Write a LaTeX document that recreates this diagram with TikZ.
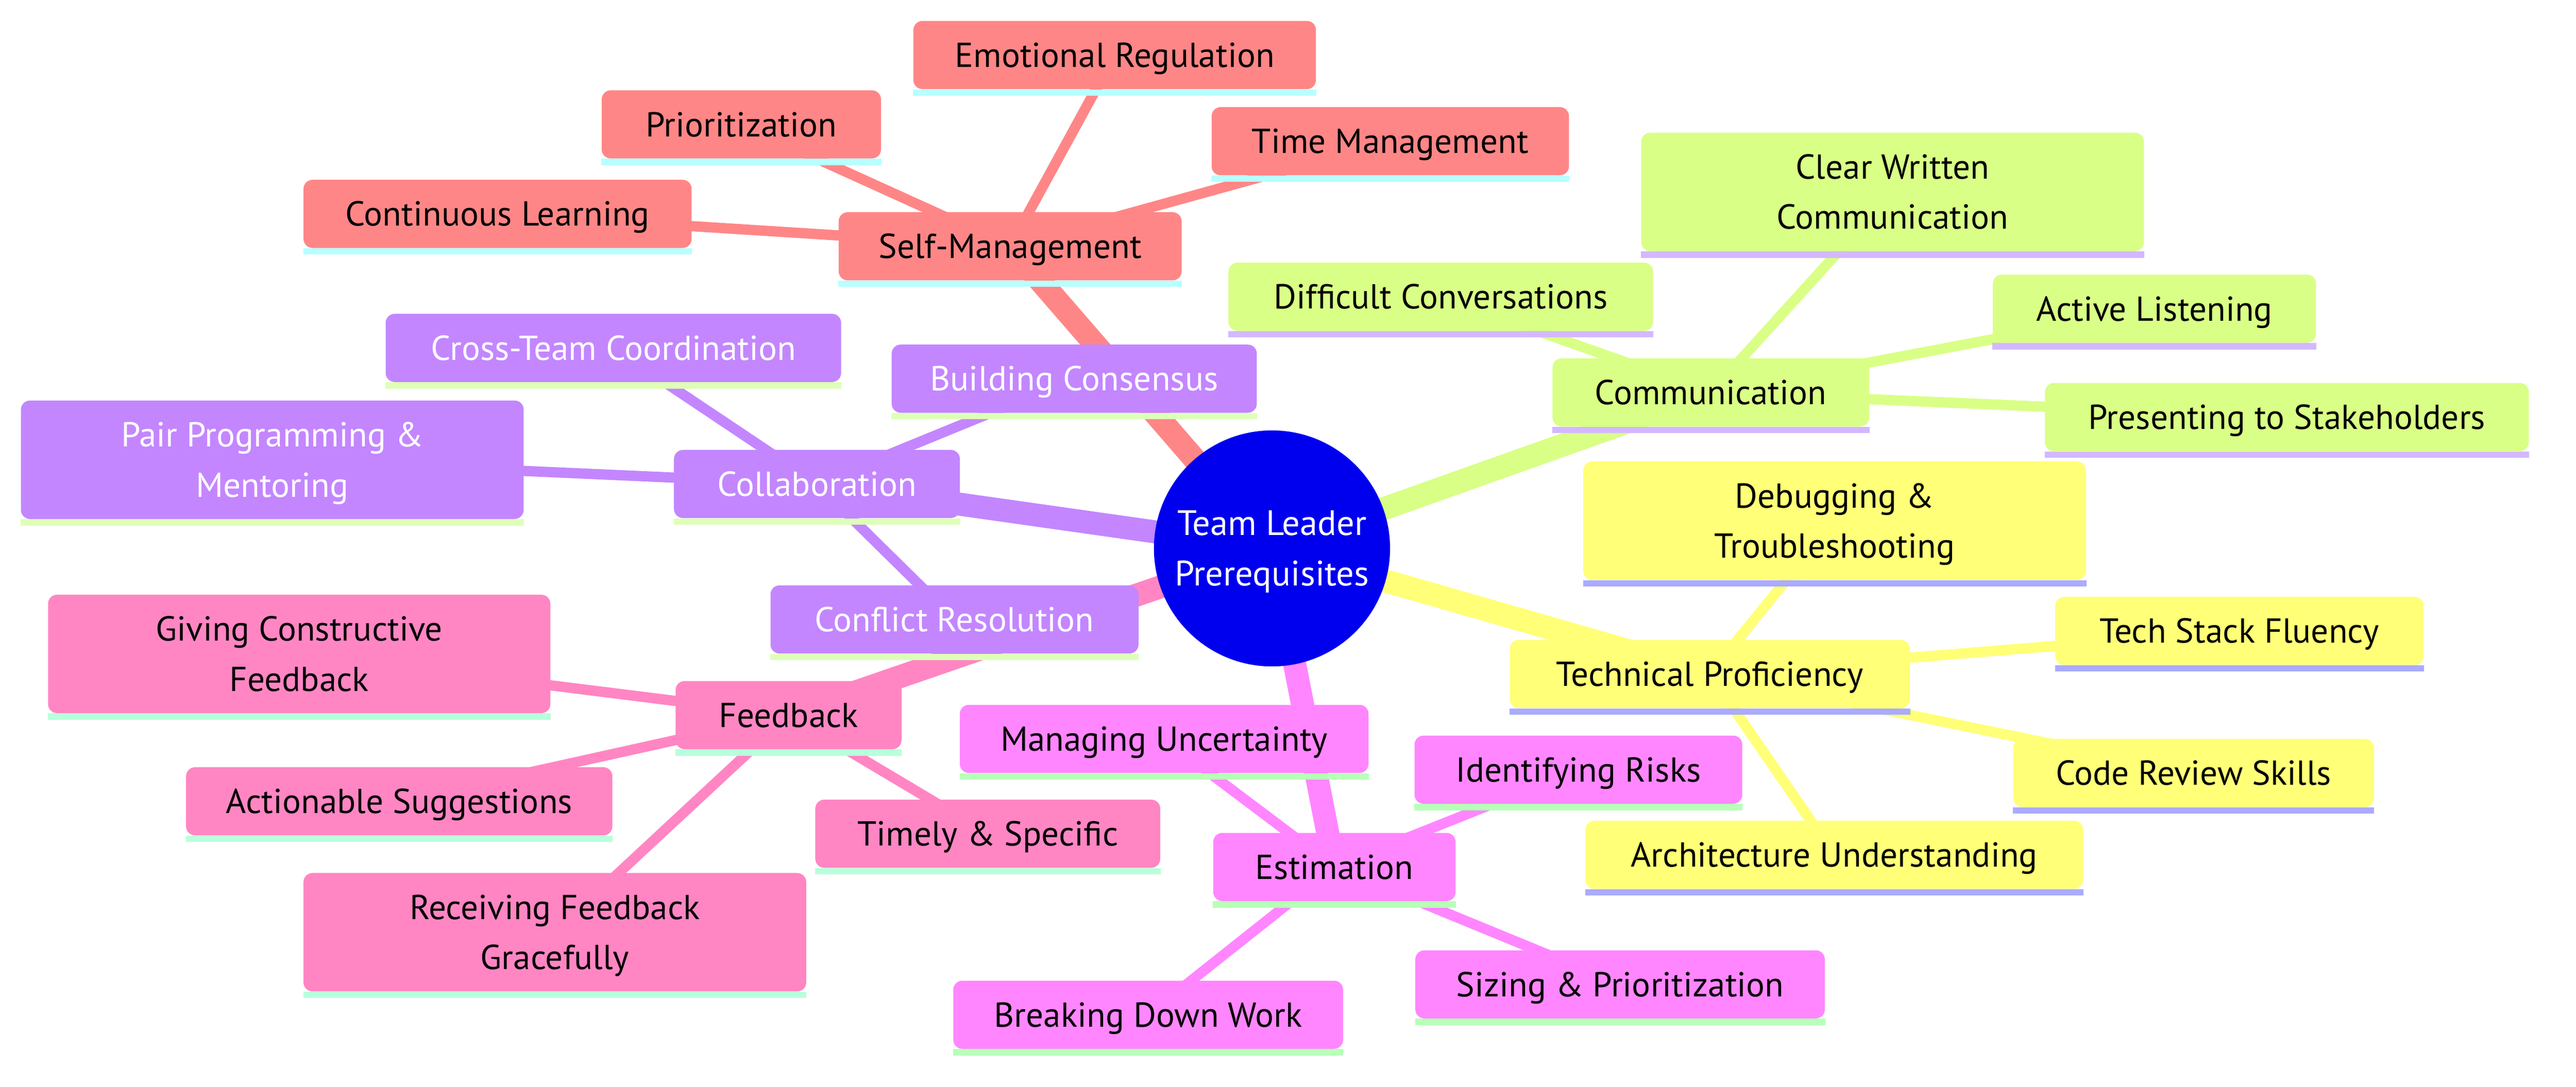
\documentclass[tikz,border=0pt]{standalone}
\usepackage{fontspec}
\setmainfont{PT Sans}
\usetikzlibrary{backgrounds}

\definecolor{selfred}{HTML}{FF8686}
\definecolor{selfband}{HTML}{B8FFFF}
\definecolor{collabviolet}{HTML}{C386FF}
\definecolor{collabband}{HTML}{DEFFB8}
\definecolor{commlime}{HTML}{D9FF86}
\definecolor{commband}{HTML}{D3B8FF}
\definecolor{techyellow}{HTML}{FFFF78}
\definecolor{techband}{HTML}{ABABFF}
\definecolor{feedpink}{HTML}{FF86C3}
\definecolor{feedband}{HTML}{B8FFDB}
\definecolor{estmagenta}{HTML}{FF86FF}
\definecolor{estband}{HTML}{B8FFB8}
\definecolor{rootblue}{HTML}{0000EE}

\newcommand{\mapstrut}{\vrule height 25pt depth 8.2pt width 0pt}

\tikzset{
  mapbox/.style 2 args={fill=#1, rounded corners=0.22cm, minimum height=1.66cm, inner sep=0pt, align=center,
    font=\fontsize{24}{34.7}\selectfont, text height=25pt, text depth=8.2pt,
    append after command={\pgfextra{\fill[#2, sharp corners] (\tikzlastnode.south west) rectangle ([yshift=-0.155cm]\tikzlastnode.south east);}}},
  twoline/.style={minimum height=2.885cm, text height={}, text depth={}},
  selfbox/.style={mapbox={selfred}{selfband}},
  collabbox/.style={mapbox={collabviolet}{collabband}, text=white},
  commbox/.style={mapbox={commlime}{commband}},
  techbox/.style={mapbox={techyellow}{techband}},
  feedbox/.style={mapbox={feedpink}{feedband}},
  estbox/.style={mapbox={estmagenta}{estband}},
  trunk/.style={line width=0.56cm},
  twig/.style={line width=0.25cm}
}

\begin{document}
\begin{tikzpicture}
    \useasboundingbox (0,0) rectangle (62.72,-26.48);

    \node[circle, fill=rootblue, text=white, minimum size=5.75cm, inner sep=0pt, align=center, font=\fontsize{24.5}{34.7}\selectfont] (root) at (30.97,-13.36) {\mapstrut Team Leader\\Prerequisites\mapstrut};

    % self-management
    \node[selfbox, minimum width=8.35cm] (selfmgmt) at (24.595,-6.00) {Self-Management};
    \node[selfbox, minimum width=9.80cm] (emotional) at (27.14,-1.34) {Emotional Regulation};
    \node[selfbox, minimum width=6.80cm] (prioritization) at (18.05,-3.03) {Prioritization};
    \node[selfbox, minimum width=9.45cm] (learning) at (12.115,-5.21) {Continuous Learning};
    \node[selfbox, minimum width=8.70cm] (timemgmt) at (33.85,-3.44) {Time Management};

    % collaboration
    \node[collabbox, minimum width=6.96cm] (collab) at (19.89,-11.79) {Collaboration};
    \node[collabbox, minimum width=8.89cm] (consensus) at (26.155,-9.225) {Building Consensus};
    \node[collabbox, minimum width=11.09cm] (crossteam) at (14.935,-8.475) {Cross-Team Coordination};
    \node[collabbox, twoline, minimum width=12.24cm] (pairing) at (6.63,-11.20) {\mapstrut Pair Programming \&\\Mentoring\mapstrut};
    \node[collabbox, minimum width=8.96cm] (conflict) at (23.24,-15.09) {Conflict Resolution};

    % communication
    \node[commbox, minimum width=7.71cm] (comm) at (41.655,-9.56) {Communication};
    \node[commbox, twoline, minimum width=12.24cm] (written) at (46.08,-4.675) {\mapstrut Clear Written\\Communication\mapstrut};
    \node[commbox, minimum width=10.34cm] (difficult) at (35.08,-7.23) {Difficult Conversations};
    \node[commbox, minimum width=7.87cm] (listening) at (52.455,-7.52) {Active Listening};
    \node[commbox, minimum width=11.78cm] (presenting) at (55.68,-10.16) {Presenting to Stakeholders};

    % technical proficiency
    \node[techbox, minimum width=9.74cm] (tech) at (41.63,-16.42) {Technical Proficiency};
    \node[techbox, twoline, minimum width=12.24cm] (debugging) at (44.67,-12.685) {\mapstrut Debugging \&\\Troubleshooting\mapstrut};
    \node[techbox, minimum width=8.97cm] (stack) at (54.525,-15.37) {Tech Stack Fluency};
    \node[techbox, minimum width=8.78cm] (review) at (53.41,-18.83) {Code Review Skills};
    \node[techbox, minimum width=12.12cm] (architecture) at (44.66,-20.825) {Architecture Understanding};

    % feedback
    \node[feedbox, minimum width=5.50cm] (feedback) at (19.20,-17.42) {Feedback};
    \node[feedbox, twoline, minimum width=12.23cm] (giving) at (7.285,-15.93) {\mapstrut Giving Constructive\\Feedback\mapstrut};
    \node[feedbox, minimum width=10.38cm] (actionable) at (9.72,-19.52) {Actionable Suggestions};
    \node[feedbox, minimum width=8.40cm] (timely) at (24.05,-20.31) {Timely \& Specific};
    \node[feedbox, twoline, minimum width=12.24cm] (receiving) at (13.51,-22.71) {\mapstrut Receiving Feedback\\Gracefully\mapstrut};

    % estimation
    \node[estbox, minimum width=5.90cm] (estimation) at (32.49,-21.12) {Estimation};
    \node[estbox, minimum width=9.95cm] (uncertainty) at (28.345,-18.00) {Managing Uncertainty};
    \node[estbox, minimum width=7.98cm] (risks) at (38.43,-18.75) {Identifying Risks};
    \node[estbox, minimum width=9.49cm] (breaking) at (27.955,-24.72) {Breaking Down Work};
    \node[estbox, minimum width=9.97cm] (sizing) at (39.445,-23.98) {Sizing \& Prioritization};

    \begin{pgfonlayer}{background}
        \draw[trunk, selfred] (root.center) -- (selfmgmt.center);
        \draw[twig, selfred] (selfmgmt.center) -- (emotional.center);
        \draw[twig, selfred] (selfmgmt.center) -- (prioritization.center);
        \draw[twig, selfred] (selfmgmt.center) -- (learning.center);
        \draw[twig, selfred] (selfmgmt.center) -- (timemgmt.center);

        \draw[trunk, collabviolet] (root.center) -- (collab.center);
        \draw[twig, collabviolet] (collab.center) -- (consensus.center);
        \draw[twig, collabviolet] (collab.center) -- (crossteam.center);
        \draw[twig, collabviolet] (collab.center) -- (pairing.center);
        \draw[twig, collabviolet] (collab.center) -- (conflict.center);

        \draw[trunk, commlime] (root.center) -- (comm.center);
        \draw[twig, commlime] (comm.center) -- (written.center);
        \draw[twig, commlime] (comm.center) -- (difficult.center);
        \draw[twig, commlime] (comm.center) -- (listening.center);
        \draw[twig, commlime] (comm.center) -- (presenting.center);

        \draw[trunk, techyellow] (root.center) -- (tech.center);
        \draw[twig, techyellow] (tech.center) -- (debugging.center);
        \draw[twig, techyellow] (tech.center) -- (stack.center);
        \draw[twig, techyellow] (tech.center) -- (review.center);
        \draw[twig, techyellow] (tech.center) -- (architecture.center);

        \draw[trunk, feedpink] (root.center) -- (feedback.center);
        \draw[twig, feedpink] (feedback.center) -- (giving.center);
        \draw[twig, feedpink] (feedback.center) -- (actionable.center);
        \draw[twig, feedpink] (feedback.center) -- (timely.center);
        \draw[twig, feedpink] (feedback.center) -- (receiving.center);

        \draw[trunk, estmagenta] (root.center) -- (estimation.center);
        \draw[twig, estmagenta] (estimation.center) -- (uncertainty.center);
        \draw[twig, estmagenta] (estimation.center) -- (risks.center);
        \draw[twig, estmagenta] (estimation.center) -- (breaking.center);
        \draw[twig, estmagenta] (estimation.center) -- (sizing.center);
    \end{pgfonlayer}
\end{tikzpicture}
\end{document}
